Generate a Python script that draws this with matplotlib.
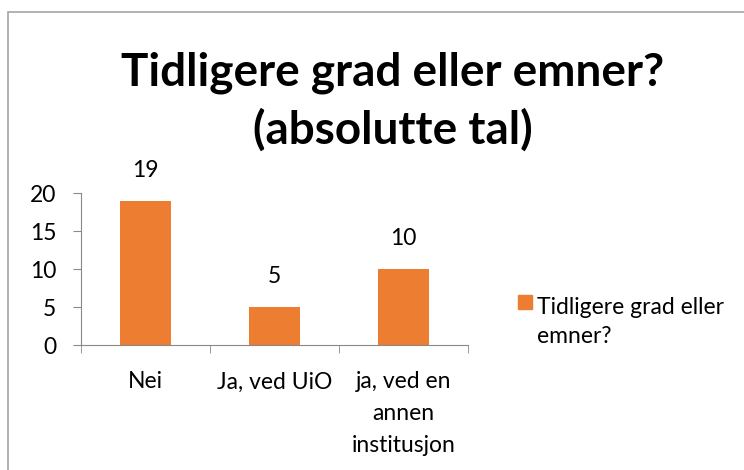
import matplotlib
matplotlib.use("Agg")
import matplotlib.pyplot as plt
from matplotlib.patches import Rectangle

kategorier = ["Nei", "Ja, ved UiO", "ja, ved en\nannen\ninstitusjon"]
verdier = [19, 5, 10]
serie_navn = "Tidligere grad eller\nemner?"
tittel = "Tidligere grad eller emner?\n(absolutte tal)"
y_ticks = [0, 5, 10, 15, 20]

plt.rcParams["font.family"] = ["Lato", "DejaVu Sans"]
orange = "#ED7D31"
grey = "#898989"
fs = 16.5

fig = plt.figure(figsize=(7.44, 4.70), dpi=100)
ax = fig.add_axes([81 / 744, 125 / 470, 387 / 744, 152 / 470])

x = list(range(len(kategorier)))
bars = ax.bar(x, verdier, width=0.4, color=orange)
for xi, v in zip(x, verdier):
    ax.annotate(str(v), (xi, v), xytext=(0, 22), textcoords="offset points",
                ha="center", va="center", fontsize=fs)

ax.set_xlim(-0.5, len(kategorier) - 0.5)
ax.set_ylim(0, 20)
ax.set_yticks(y_ticks)
ax.set_xticks([i - 0.5 for i in range(len(kategorier) + 1)], minor=True)
ax.set_xticks(x)
ax.set_xticklabels(kategorier, fontsize=fs, linespacing=1.65)
ax.tick_params(axis="x", which="major", length=0, pad=19)
ax.tick_params(axis="x", which="minor", length=5.8, color=grey, direction="out")
ax.tick_params(axis="y", length=5.8, color=grey, labelsize=fs, pad=12)
for s in ["top", "right"]:
    ax.spines[s].set_visible(False)
for s in ["left", "bottom"]:
    ax.spines[s].set_color(grey)

fig.text(0.528, (470 - 52) / 470, tittel, ha="center", va="top", fontsize=33,
         fontweight="bold", linespacing=1.4)

# legend, drawn by hand so the marker sits on the first line
fig.add_artist(Rectangle((518 / 744, (470 - 309) / 470), 14 / 744, 14 / 470,
                         transform=fig.transFigure, color=orange))
fig.text(537 / 744, (470 - 343) / 470, serie_navn, ha="left", va="baseline",
         fontsize=fs, linespacing=1.45)

fig.add_artist(Rectangle((8 / 744, -0.1), 1.2, (470 - 12) / 470 + 0.1, transform=fig.transFigure,
                         fill=False, edgecolor="#A6A6A6", linewidth=1.2))

fig.savefig("out.png", dpi=100)
